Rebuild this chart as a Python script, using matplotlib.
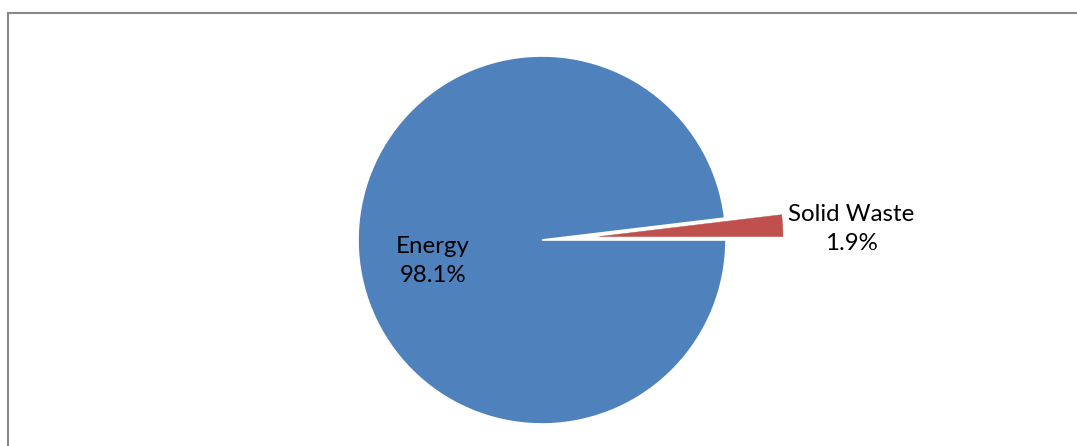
import matplotlib
matplotlib.use("Agg")
import matplotlib.pyplot as plt
from matplotlib.patches import Rectangle

categories = ["Solid Waste", "Energy"]
values = [1.9, 98.1]
colors = ["#C0504D", "#4F81BD"]
explode = [0.31, 0.0]

W, H, DPI = 1077, 446, 100
fig = plt.figure(figsize=(W / DPI, H / DPI), dpi=DPI)
fig.patch.set_facecolor("white")

ax = fig.add_axes([0, 0, 1, 1])
cx, cy, R = 542, 240, 184
wedges, _ = ax.pie(values, colors=colors, explode=explode, startangle=0,
                   counterclock=True, radius=1.0,
                   wedgeprops=dict(edgecolor="white", linewidth=1.2))
wedges[0].set_edgecolor(colors[0])
wedges[0].set_linewidth(0.3)
ax.set_xlim(-cx / R, (W - cx) / R)
ax.set_ylim(-(H - cy) / R, cy / R)
ax.set_aspect("auto")
ax.axis("off")

font = ["Lato", "DejaVu Sans"]
label_pos = {"Energy": (-0.592, -0.115), "Solid Waste": (1.682, 0.06)}
for cat, val in zip(categories, values):
    x, y = label_pos[cat]
    ax.text(x, y, f"{cat}\n{val:.1f}%", ha="center", va="center",
            fontsize=17.3, family=font, color="black", linespacing=1.45)

frame = Rectangle((7.5 / W, -0.2), 1.2, 1.2 - 12.5 / H, transform=fig.transFigure,
                  fill=False, edgecolor="#888888", linewidth=1.5, clip_on=False)
fig.patches.append(frame)

fig.savefig("out.png", dpi=DPI)
